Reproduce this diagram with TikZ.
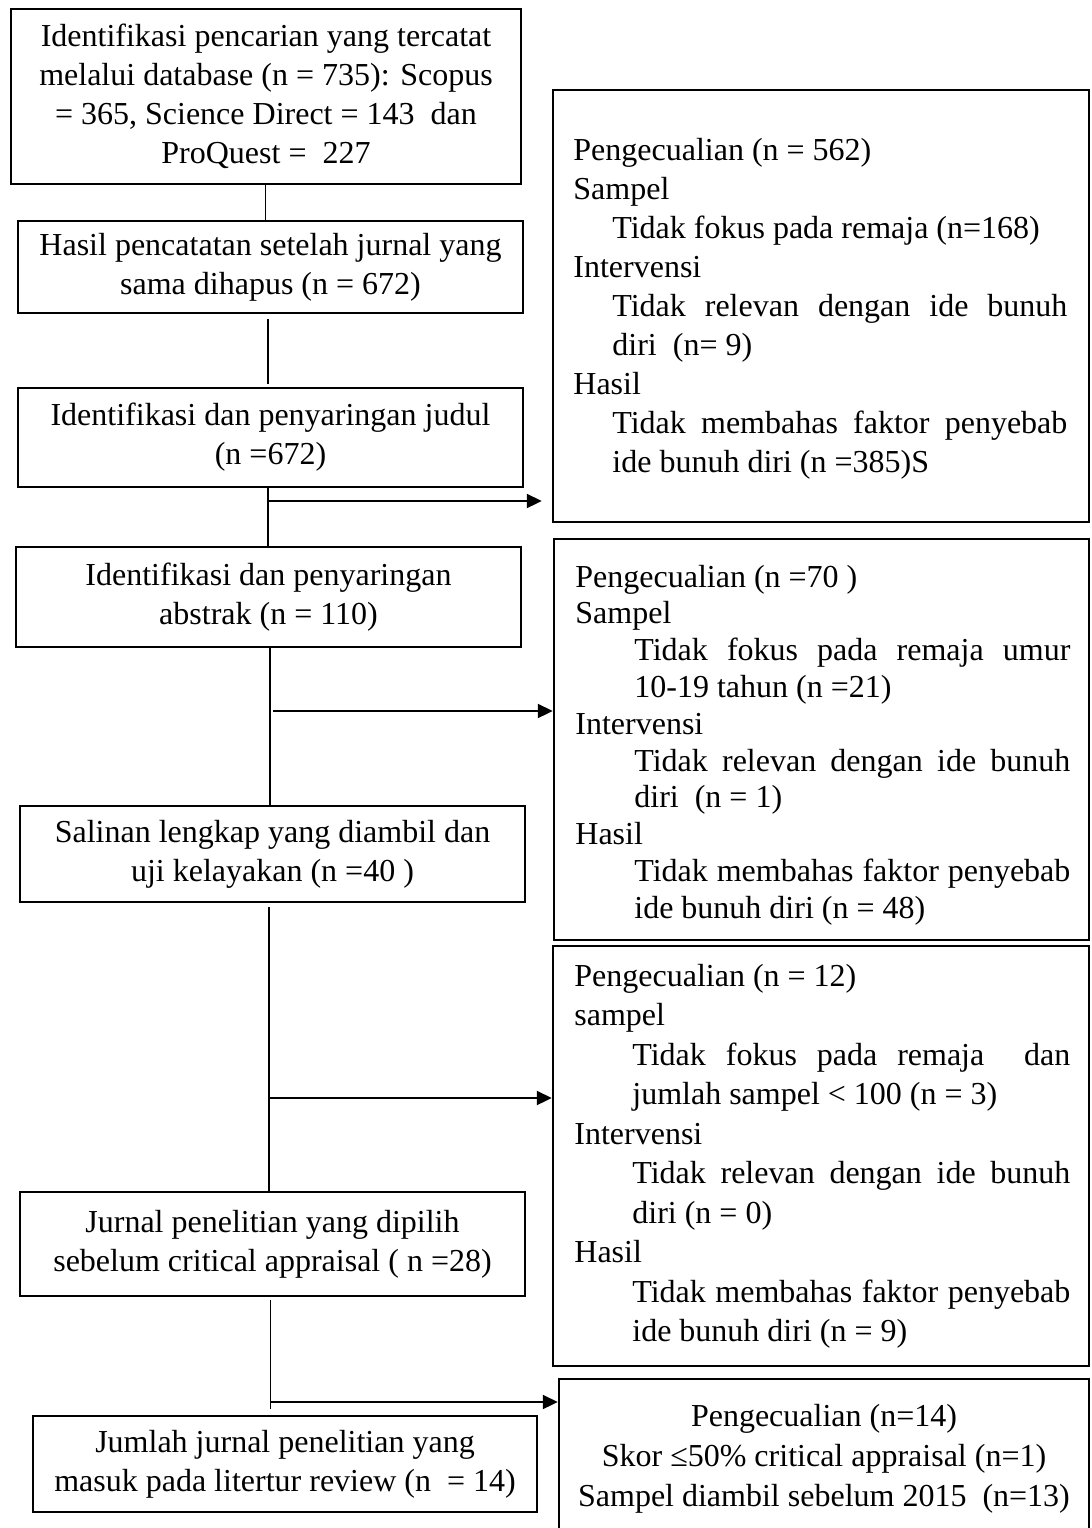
\documentclass[tikz,border=0pt]{standalone}
\usepackage{fontspec}
\setmainfont{Liberation Serif}
\usetikzlibrary{arrows.meta,calc}
\begin{document}
\begin{tikzpicture}[x=0.5pt,y=-0.5pt,
  lbox/.style={draw, line width=1pt, align=center, inner sep=0pt,
    font=\fontsize{16}{19.5}\selectfont},
  rbox/.style={draw, line width=1.2pt, inner sep=0pt},
  conn/.style={line width=1pt},
  thinconn/.style={line width=0.5pt},
  arr/.style={line width=1pt, -{Triangle[length=7.5pt,width=7pt]}},
  rtext/.style={inner sep=0pt, anchor=base west}
]
\useasboundingbox (0,0) rectangle (1092,1528);
\fill[white] (0,0) rectangle (1092,1528);

% left column
\node[lbox, minimum width=255pt, minimum height=87.5pt] (b1) at (266,96.5)
  {Identifikasi pencarian yang tercatat\\ melalui database (n = 735): Scopus\\ = 365, Science Direct = 143\ \ dan\\ ProQuest =\ \ 227};
\node[lbox, minimum width=252.5pt, minimum height=46pt] (b2) at (270.5,267)
  {Hasil pencatatan setelah jurnal yang\\ sama dihapus (n = 672)};
% the reference cuts off the bottom of the last line of this box
\fill[white] ($(b2.south west)+(2,-12)$) rectangle ($(b2.south east)+(-2,-2)$);
\node[lbox, minimum width=252.5pt, minimum height=49.5pt] (b3) at (270.5,437.5)
  {Identifikasi dan penyaringan judul\\ (n =672)};
\node[lbox, minimum width=252.5pt, minimum height=50pt] (b4) at (268.5,597)
  {Identifikasi dan penyaringan\\ abstrak (n = 110)};
\node[lbox, minimum width=252.5pt, minimum height=48pt] (b5) at (272.5,854)
  {Salinan lengkap yang diambil dan\\ uji kelayakan (n =40 )};
\node[lbox, minimum width=252.5pt, minimum height=52pt] (b6) at (272.5,1244)
  {Jurnal penelitian yang dipilih\\ sebelum critical appraisal ( n =28)};
\node[lbox, minimum width=252pt, minimum height=48pt] (b7) at (285,1464)
  {Jumlah jurnal penelitian yang\\ masuk pada litertur review (n\ \ = 14)};

% right column boxes
\node[rbox, minimum width=268pt, minimum height=216pt] (r1) at (821,306) {};
\node[rbox, minimum width=267.5pt, minimum height=200.5pt] (r2) at (821.5,739.5) {};
\node[rbox, minimum width=268pt, minimum height=210pt] (r3) at (821,1156) {};
\node[rbox, minimum width=265pt, minimum height=90.5pt] (r4) at (824,1469.5) {};

% right column texts
\node[rtext] (t1) at (573,160) {\parbox[t]{247pt}{\fontsize{16}{19.5}\selectfont
  \parindent=0pt \hyphenpenalty=10000 \exhyphenpenalty=10000
  Pengecualian (n = 562)\par
  Sampel\par
  {\leftskip=19.5pt Tidak fokus pada remaja (n=168)\par}
  Intervensi\par
  {\leftskip=19.5pt Tidak relevan dengan ide bunuh\linebreak diri\ \ (n= 9)\par}
  Hasil\par
  {\leftskip=19.5pt Tidak membahas faktor penyebab\linebreak ide bunuh diri (n =385)S\par}}};

\node[rtext] (t2) at (575,587) {\parbox[t]{247.5pt}{\fontsize{16}{18.4}\selectfont
  \parindent=0pt \hyphenpenalty=10000 \exhyphenpenalty=10000
  Pengecualian (n =70 )\par
  Sampel\par
  {\leftskip=29.5pt Tidak fokus pada remaja umur\linebreak 10-19 tahun (n =21)\par}
  Intervensi\par
  {\leftskip=29.5pt Tidak relevan dengan ide bunuh\linebreak diri\ \ (n = 1)\par}
  Hasil\par
  {\leftskip=29.5pt Tidak membahas faktor penyebab\linebreak ide bunuh diri (n = 48)\par}}};

\node[rtext] (t3) at (574,986) {\parbox[t]{248pt}{\fontsize{16}{19.75}\selectfont
  \parindent=0pt \hyphenpenalty=10000 \exhyphenpenalty=10000
  Pengecualian (n = 12)\par
  sampel\par
  {\leftskip=29pt Tidak fokus pada remaja\ \ dan\linebreak jumlah sampel < 100 (n = 3)\par}
  Intervensi\par
  {\leftskip=29pt Tidak relevan dengan ide bunuh\linebreak diri (n = 0)\par}
  Hasil\par
  {\leftskip=29pt Tidak membahas faktor penyebab\linebreak ide bunuh diri (n = 9)\par}}};

\node[inner sep=0pt, anchor=base] (t4) at (824,1426) {\parbox[t]{265pt}{\fontsize{16}{20}\selectfont
  \centering
  Pengecualian (n=14)\\
  Skor ≤50\% critical appraisal (n=1)\\
  Sampel diambil sebelum 2015\ \ (n=13)}};

% connectors
\coordinate (j0) at (265,200);
\coordinate (j5) at (268,350);
\coordinate (j1) at (268,501);
\coordinate (j2) at (270,711);
\coordinate (j3) at (269,1098);
\coordinate (j4) at (270,1402);

\draw[thinconn] (b1.south -| j0) -- (b2.north -| j0);
\draw[conn] ($(b2.south -| j5)+(0,5)$) -- ($(b3.north -| j5)+(0,-3)$);
\draw[conn] (b3.south -| j1) -- (b4.north -| j1);
\draw[arr] (j1) -- ($(j1 -| r1.west)+(-10,0)$);
\draw[conn] (b4.south -| j2) -- (b5.north -| j2);
\draw[arr] ($(j2)+(3,0)$) -- (j2 -| r2.west);
\draw[conn] ($(b5.south -| j3)+(0,4)$) -- (b6.north -| j3);
\draw[arr] (j3) -- (j3 -| r3.west);
\draw[thinconn] ($(b6.south -| j4)+(0,3)$) -- ($(b7.north -| j4)+(0,-6)$);
\draw[arr] (j4) -- (j4 -| r4.west);
\end{tikzpicture}
\end{document}
